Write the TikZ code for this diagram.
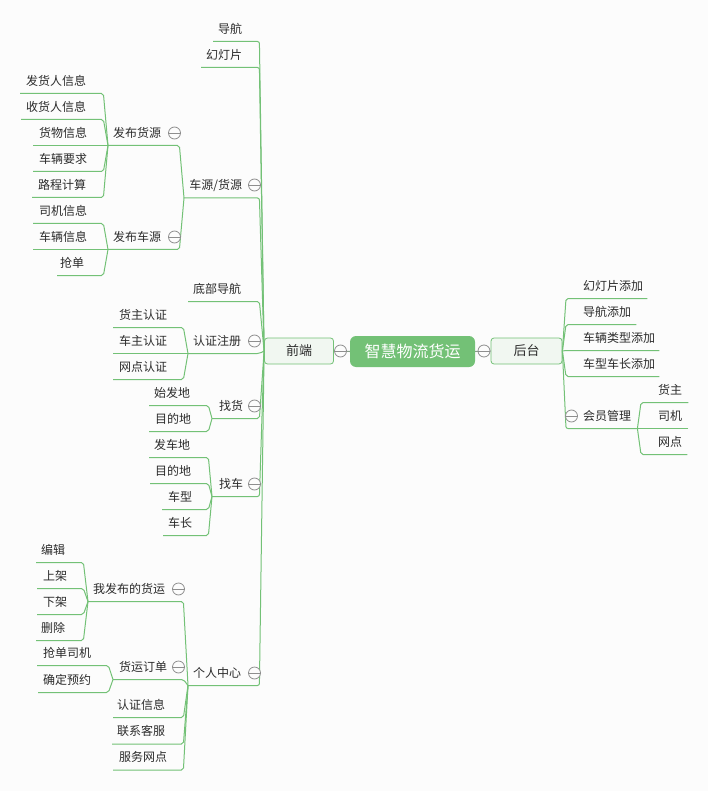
\documentclass[tikz,border=0pt]{standalone}
\usepackage{fontspec}
\setmainfont{Noto Sans CJK SC}
\definecolor{bgc}{HTML}{FCFCFC}
\definecolor{gr}{HTML}{73C176}
\definecolor{pale}{HTML}{F1F7F1}
\definecolor{txt}{HTML}{2B2B2B}
\definecolor{cg}{HTML}{8E8E8E}
\tikzset{
  item/.style={inner sep=0pt,minimum height=25pt,anchor=south west,font=\fontsize{12}{14}\selectfont,text=txt},
  link/.style={draw=gr,line width=1pt,rounded corners=2pt},
  collapse/.style={circle,draw=cg,line width=0.8pt,fill=bgc,inner sep=0pt,minimum size=12pt,
    path picture={\draw[cg,line width=0.7pt] (path picture bounding box.west) -- (path picture bounding box.east);}},
  mid/.style={rectangle,rounded corners=3pt,draw=gr,line width=0.8pt,fill=pale,minimum height=26pt,inner sep=0pt,
    font=\fontsize{13}{15}\selectfont,text=txt},
  rootbox/.style={rectangle,rounded corners=6pt,fill=gr,minimum height=31pt,inner sep=0pt,
    font=\fontsize{16}{18}\selectfont,text=white}
}
% id, text-centre x, line y, left x, right x, text
\newcommand\lf[6]{\node[item] (#1) at (#4,#3) {\makebox[\dimexpr#5pt-#4pt\relax][l]{\hspace{\dimexpr#2pt-#4pt\relax}\makebox[0pt][c]{#6}}};}
\newcommand\lk[2]{\draw[link] (#1.south west) -- (#1.south east) -- (#2);}
\newcommand\rk[2]{\draw[link] (#1.south east) -- (#1.south west) -- (#2);}
\begin{document}
\begin{tikzpicture}[x=1pt,y=-1pt]
\useasboundingbox[fill=bgc] (0,0) rectangle (708,791);
% centre
\node[rootbox,minimum width=125pt] (root) at (412.5,351.5) {智慧物流货运};
\node[mid,minimum width=69pt] (fe) at (299,351) {前端};
\node[mid,minimum width=71pt] (be) at (526.5,351) {后台};
\draw[link,draw=cg!70!gr] (root.west) -- (fe.east);
\draw[link,draw=cg!70!gr] (root.east) -- (be.west);
% level 1 left
\lf{a1}{230}{41.5}{213}{259}{导航}
\lf{a2}{224}{67.5}{201}{259}{幻灯片}
\lf{a3}{215.5}{198}{184}{259}{车源/货源}
\lf{a4}{217}{301.5}{188}{259}{底部导航}
\lf{a5}{217}{353.5}{188}{259}{认证注册}
\lf{a6}{231}{418.5}{212}{259}{找货}
\lf{a7}{231}{496.5}{212}{259}{找车}
\lf{a8}{217}{685.5}{188}{259}{个人中心}
\foreach \n in {a1,a2,a3,a4,a5,a6,a7,a8} {\lk{\n}{fe.west}}
% 车源/货源
\lf{b1}{137}{145.5}{108}{179}{发布货源}
\lf{b2}{137}{249.5}{108}{179}{发布车源}
\lk{b1}{a3.south west}
\lk{b2}{a3.south west}
\lf{c1}{56}{93.5}{20}{103}{发货人信息}
\lf{c2}{56}{119.5}{21}{103}{收货人信息}
\lf{c3}{63}{145.5}{33}{103}{货物信息}
\lf{c4}{63}{171.5}{33}{103}{车辆要求}
\lf{c5}{62}{197.5}{32}{103}{路程计算}
\foreach \n in {c1,c2,c3,c4,c5} {\lk{\n}{b1.south west}}
\lf{d1}{63}{223.5}{33}{103}{司机信息}
\lf{d2}{63}{249.5}{33}{103}{车辆信息}
\lf{d3}{72}{275.5}{57}{103}{抢单}
\foreach \n in {d1,d2,d3} {\lk{\n}{b2.south west}}
% 认证注册
\lf{e1}{143}{327.5}{113}{183}{货主认证}
\lf{e2}{143}{353.5}{113}{183}{车主认证}
\lf{e3}{143}{379.5}{113}{183}{网点认证}
\foreach \n in {e1,e2,e3} {\lk{\n}{a5.south west}}
% 找货
\lf{f1}{172}{405.5}{149}{208}{始发地}
\lf{f2}{173}{431.5}{149}{208}{目的地}
\foreach \n in {f1,f2} {\lk{\n}{a6.south west}}
% 找车
\lf{g1}{172}{457.5}{149}{208}{发车地}
\lf{g2}{173}{483.5}{150}{208}{目的地}
\lf{g3}{180}{509.5}{162}{208}{车型}
\lf{g4}{180}{535.5}{163}{208}{车长}
\foreach \n in {g1,g2,g3,g4} {\lk{\n}{a7.south west}}
% 个人中心
\lf{h1}{129}{601.5}{88}{183}{我发布的货运}
\lf{h2}{143}{679.5}{113}{183}{货运订单}
\lf{h3}{141}{717.5}{113}{183}{认证信息}
\lf{h4}{141}{744}{112}{183}{联系客服}
\lf{h5}{143}{770}{113}{183}{服务网点}
\foreach \n in {h1,h2,h3,h4,h5} {\lk{\n}{a8.south west}}
\lf{i1}{53}{562.5}{36}{83}{编辑}
\lf{i2}{55}{588.5}{37}{83}{上架}
\lf{i3}{55}{614.5}{37}{83}{下架}
\lf{i4}{53}{640.5}{36}{83}{删除}
\foreach \n in {i1,i2,i3,i4} {\lk{\n}{h1.south west}}
\lf{j1}{67}{665.5}{37}{108}{抢单司机}
\lf{j2}{67}{692.5}{38}{108}{确定预约}
\foreach \n in {j1,j2} {\lk{\n}{h2.south west}}
% right
\lf{r1}{613}{298.5}{566}{647}{幻灯片添加}
\lf{r2}{607}{324.5}{566}{636}{导航添加}
\lf{r3}{619}{350.5}{566}{659}{车辆类型添加}
\lf{r4}{619}{376.5}{566}{659}{车型车长添加}
\lf{r5}{607}{428.5}{566}{637}{会员管理}
\foreach \n in {r1,r2,r3,r4,r5} {\rk{\n}{be.east}}
\lf{s1}{670}{402.5}{641}{688}{货主}
\lf{s2}{670}{428.5}{641}{688}{司机}
\lf{s3}{670}{454.5}{641}{687}{网点}
\foreach \n in {s1,s2,s3} {\rk{\n}{r5.south east}}
% collapse marks
\node[collapse] (k1) at (340.5,351) {};
\node[collapse] (k2) at (484,351) {};
\node[collapse] (k3) at (254.5,185) {};
\node[collapse] (k4) at (174.5,133) {};
\node[collapse] (k5) at (174.5,237) {};
\node[collapse] (k6) at (254.5,341) {};
\node[collapse] (k7) at (254.5,406) {};
\node[collapse] (k8) at (254.5,484) {};
\node[collapse] (k9) at (178.5,589) {};
\node[collapse] (k10) at (178.5,667) {};
\node[collapse] (k11) at (254.5,673) {};
\node[collapse] (k12) at (571.5,416) {};
\end{tikzpicture}
\end{document}
